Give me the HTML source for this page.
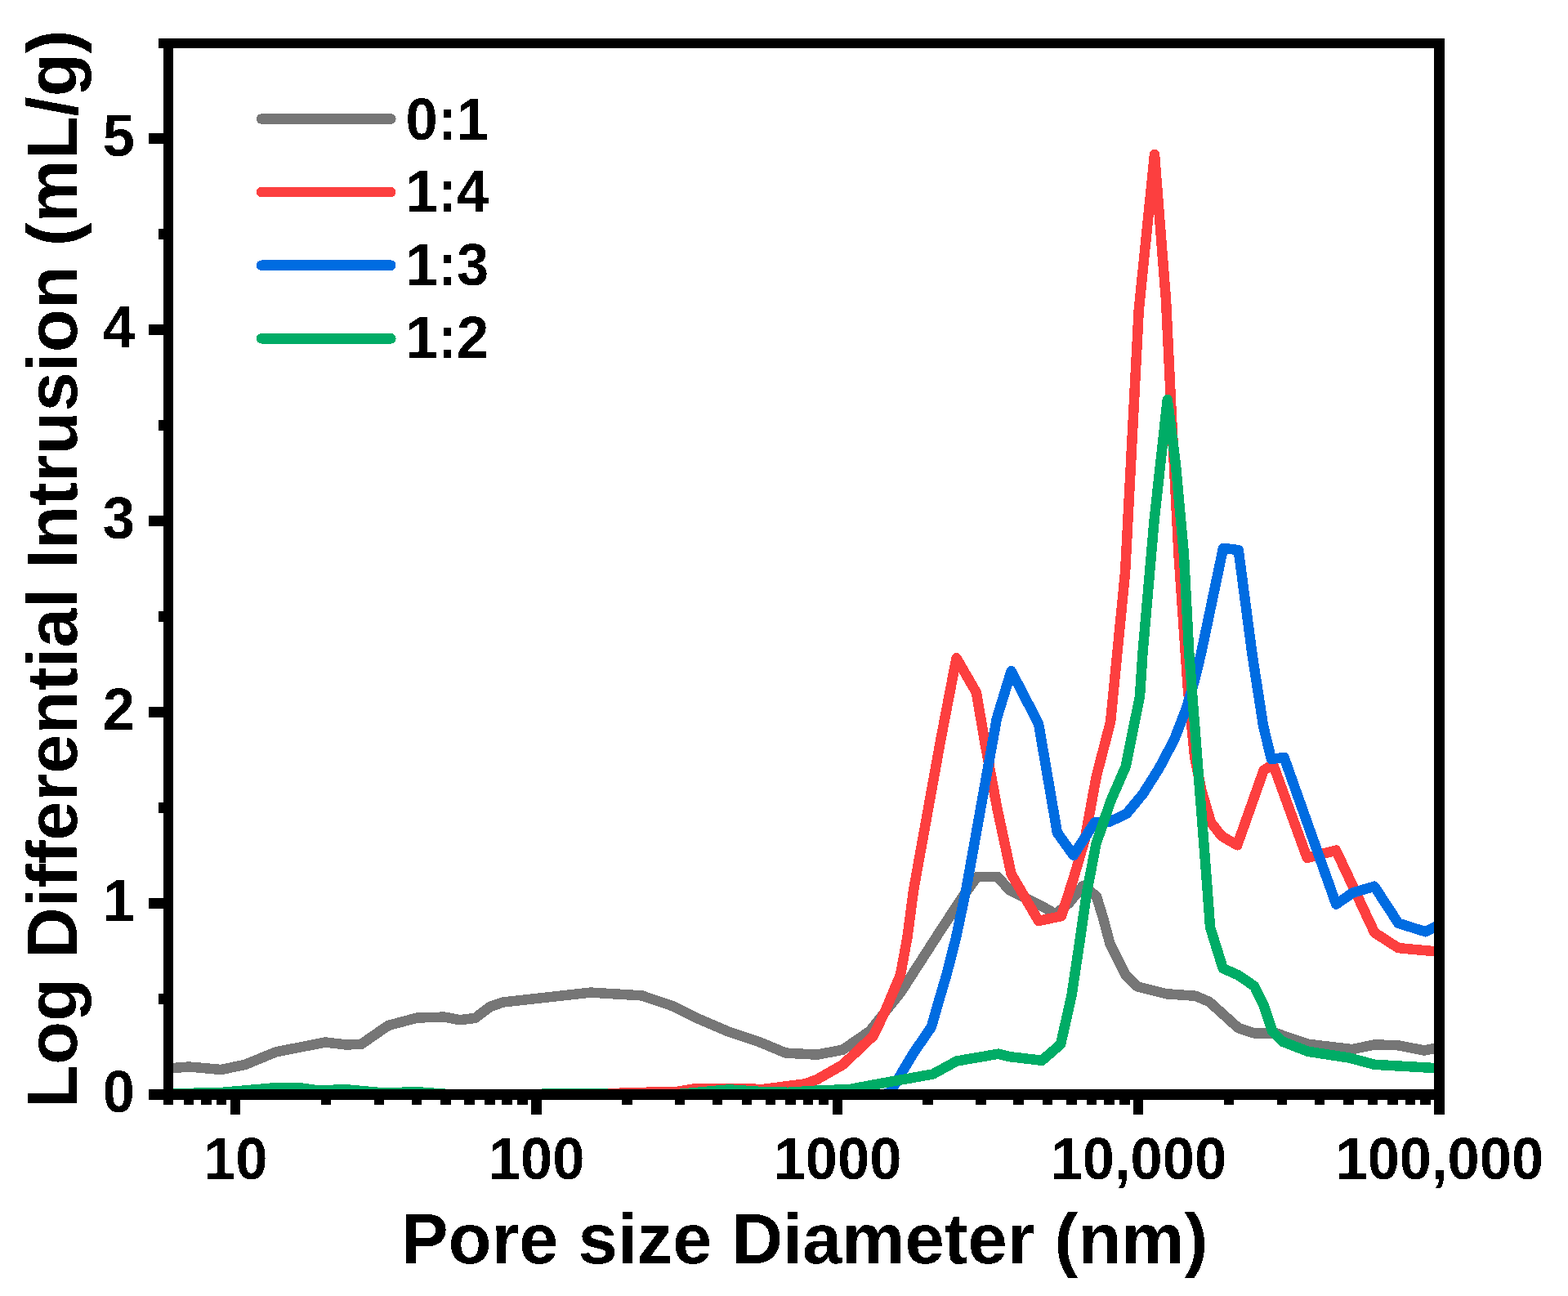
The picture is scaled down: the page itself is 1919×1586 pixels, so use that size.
<!DOCTYPE html>
<html lang="en"><head><meta charset="utf-8"><title>Pore size distribution</title>
<style>
html,body{margin:0;padding:0;background:#fff;}
body{width:1919px;height:1586px;overflow:hidden;}
svg{display:block;}
text{font-family:"Liberation Sans",sans-serif;font-weight:bold;fill:#000;}
.tick{font-size:73px;}
.title{font-size:86.7px;}
.leg{font-size:73px;}
</style></head><body>
<svg width="1919" height="1586" viewBox="0 0 1919 1586">
<defs>
<filter id="al" x="-5%" y="-5%" width="110%" height="110%" color-interpolation-filters="sRGB"><feComponentTransfer><feFuncA type="discrete" tableValues="0 1"/></feComponentTransfer></filter>
<clipPath id="pc"><rect x="206" y="53" width="1556" height="1287"/></clipPath>
</defs>
<rect x="0" y="0" width="1919" height="1586" fill="#ffffff"/>

<g clip-path="url(#pc)" fill="none" stroke-width="12.5" stroke-linejoin="round" stroke-linecap="round" shape-rendering="crispEdges">
<polyline stroke="#767676" points="206.0,1307.0 211.9,1307.0 231.3,1305.5 270.9,1309.0 300.1,1302.8 337.6,1287.4 398.0,1275.5 423.0,1278.4 441.8,1278.0 475.1,1255.0 510.6,1245.5 543.9,1244.6 562.7,1248.2 581.4,1245.9 600.0,1231.9 615.6,1226.5 723.0,1214.6 785.5,1218.4 823.0,1231.1 856.4,1247.5 891.8,1262.6 929.3,1275.1 961.6,1288.6 1000.0,1290.7 1031.3,1284.7 1064.6,1261.8 1103.0,1213.4 1145.9,1146.7 1177.2,1098.8 1195.9,1072.9 1220.9,1072.9 1235.5,1089.4 1260.6,1101.9 1279.3,1111.3 1291.8,1118.6 1308.5,1105.0 1325.2,1084.2 1341.8,1096.7 1350.2,1123.8 1358.5,1155.1 1377.3,1192.6 1391.9,1207.2 1394.6,1208.0 1427.9,1216.3 1463.4,1218.8 1480.1,1226.1 1515.5,1258.0 1534.2,1264.3 1561.3,1264.3 1600.9,1277.8 1655.1,1284.1 1682.2,1278.4 1711.4,1279.3 1742.7,1285.5 1755.2,1283.0 1762.0,1281.5"/>
<polyline stroke="#FC3F3F" points="206.0,1341.0 735.0,1340.5 741.7,1338.8 766.8,1337.2 827.2,1336.1 850.1,1332.4 912.7,1332.4 933.5,1333.0 985.6,1326.3 1000.0,1320.9 1031.3,1303.1 1068.8,1267.6 1082.9,1238.4 1102.1,1192.6 1110.5,1146.7 1118.2,1088.4 1150.7,908.4 1170.5,805.3 1194.9,847.5 1205.3,908.4 1220.9,991.8 1237.6,1069.6 1271.0,1126.9 1298.8,1121.2 1313.5,1076.0 1327.5,1028.0 1341.8,950.1 1359.1,883.4 1377.1,700.0 1393.8,378.9 1413.0,189.2 1427.1,368.4 1432.9,490.0 1442.6,680.0 1453.8,842.5 1462.1,925.9 1470.5,967.6 1481.9,1006.2 1495.0,1023.1 1506.9,1030.0 1514.2,1034.3 1546.6,942.6 1558.0,935.3 1599.7,1049.9 1635.1,1040.6 1682.2,1141.3 1711.4,1160.1 1755.2,1164.2 1762.0,1164.8"/>
<polyline stroke="#006CE1" points="206.0,1342.0 1076.0,1342.0 1090.0,1336.0 1103.8,1312.5 1118.8,1287.5 1139.8,1256.9 1147.5,1230.0 1158.5,1192.6 1170.2,1146.7 1182.4,1088.4 1219.9,879.3 1237.6,821.3 1271.0,885.5 1293.9,1018.9 1313.7,1046.7 1339.8,1006.4 1358.5,1005.4 1378.8,995.7 1398.6,971.8 1418.4,940.5 1437.1,905.1 1451.7,867.5 1462.1,832.1 1469.9,800.0 1497.0,670.8 1515.7,673.2 1532.4,800.0 1546.1,888.4 1555.9,929.0 1571.6,927.0 1635.2,1106.6 1655.6,1092.5 1682.0,1084.7 1711.4,1129.8 1744.8,1140.3 1755.2,1135.0 1762.0,1131.5"/>
<polyline stroke="#00AC66" points="206.0,1338.6 273.0,1336.8 335.5,1331.3 366.8,1331.3 391.8,1334.7 420.9,1333.0 471.0,1337.6 508.5,1336.1 554.4,1339.5 660.0,1339.5 665.0,1338.4 742.0,1338.4 746.0,1339.5 829.3,1339.0 891.8,1333.4 933.5,1336.1 964.8,1336.8 1000.0,1334.6 1040.0,1333.0 1083.4,1324.9 1141.7,1314.5 1170.9,1298.5 1222.0,1289.7 1235.5,1293.1 1275.1,1297.8 1298.1,1278.0 1311.6,1217.6 1321.0,1155.1 1330.0,1092.5 1341.5,1032.5 1359.4,980.0 1377.7,938.0 1395.0,852.2 1398.4,800.0 1412.6,636.8 1428.8,489.2 1438.8,567.5 1448.9,678.0 1455.3,800.0 1475.5,1060.0 1481.1,1135.0 1496.7,1185.1 1515.5,1193.4 1535.3,1207.0 1546.8,1230.9 1557.2,1262.2 1569.7,1274.7 1600.9,1286.8 1651.0,1294.5 1682.2,1302.8 1755.2,1307.0 1762.0,1307.4"/>
</g>
<g fill="#000" shape-rendering="crispEdges">
<rect x="200" y="47" width="1568" height="12"/>
<rect x="200" y="1333" width="1568" height="13"/>
<rect x="200" y="47" width="12" height="1305"/>
<rect x="1755" y="47" width="13" height="1317"/>
<rect x="182" y="1333" width="18" height="13"/>
<rect x="194" y="1216" width="6" height="13"/>
<rect x="182" y="1099" width="18" height="13"/>
<rect x="194" y="982" width="6" height="13"/>
<rect x="182" y="865" width="18" height="13"/>
<rect x="194" y="748" width="6" height="13"/>
<rect x="182" y="631" width="18" height="13"/>
<rect x="194" y="514" width="6" height="13"/>
<rect x="182" y="397" width="18" height="13"/>
<rect x="194" y="280" width="6" height="13"/>
<rect x="182" y="163" width="18" height="13"/>
<rect x="194" y="47" width="6" height="12"/>
<rect x="225" y="1346" width="12" height="6"/>
<rect x="246" y="1346" width="13" height="6"/>
<rect x="265" y="1346" width="12" height="6"/>
<rect x="282" y="1346" width="12" height="18"/>
<rect x="393" y="1346" width="12" height="6"/>
<rect x="458" y="1346" width="12" height="6"/>
<rect x="504" y="1346" width="12" height="6"/>
<rect x="539" y="1346" width="13" height="6"/>
<rect x="568" y="1346" width="13" height="6"/>
<rect x="593" y="1346" width="13" height="6"/>
<rect x="614" y="1346" width="13" height="6"/>
<rect x="633" y="1346" width="13" height="6"/>
<rect x="650" y="1346" width="13" height="18"/>
<rect x="761" y="1346" width="13" height="6"/>
<rect x="826" y="1346" width="12" height="6"/>
<rect x="872" y="1346" width="12" height="6"/>
<rect x="908" y="1346" width="12" height="6"/>
<rect x="937" y="1346" width="12" height="6"/>
<rect x="961" y="1346" width="13" height="6"/>
<rect x="983" y="1346" width="12" height="6"/>
<rect x="1002" y="1346" width="12" height="6"/>
<rect x="1019" y="1346" width="12" height="18"/>
<rect x="1129" y="1346" width="13" height="6"/>
<rect x="1194" y="1346" width="13" height="6"/>
<rect x="1240" y="1346" width="13" height="6"/>
<rect x="1276" y="1346" width="12" height="6"/>
<rect x="1305" y="1346" width="13" height="6"/>
<rect x="1330" y="1346" width="12" height="6"/>
<rect x="1351" y="1346" width="13" height="6"/>
<rect x="1370" y="1346" width="13" height="6"/>
<rect x="1387" y="1346" width="12" height="18"/>
<rect x="1498" y="1346" width="12" height="6"/>
<rect x="1563" y="1346" width="12" height="6"/>
<rect x="1609" y="1346" width="12" height="6"/>
<rect x="1644" y="1346" width="13" height="6"/>
<rect x="1674" y="1346" width="12" height="6"/>
<rect x="1698" y="1346" width="13" height="6"/>
<rect x="1720" y="1346" width="12" height="6"/>
<rect x="1738" y="1346" width="13" height="6"/>
</g>
<g filter="url(#al)">
<text class="tick" transform="translate(165,1360.9) scale(0.965,1)" text-anchor="end">0</text>
<text class="tick" transform="translate(165,1126.9) scale(0.965,1)" text-anchor="end">1</text>
<text class="tick" transform="translate(165,892.9) scale(0.965,1)" text-anchor="end">2</text>
<text class="tick" transform="translate(165,658.9) scale(0.965,1)" text-anchor="end">3</text>
<text class="tick" transform="translate(165,424.9) scale(0.965,1)" text-anchor="end">4</text>
<text class="tick" transform="translate(165,190.9) scale(0.965,1)" text-anchor="end">5</text>
<text class="tick" transform="translate(288.3,1443) scale(0.965,1)" text-anchor="middle">10</text>
<text class="tick" transform="translate(656.7,1443) scale(0.965,1)" text-anchor="middle">100</text>
<text class="tick" transform="translate(1025.0,1443) scale(0.965,1)" text-anchor="middle">1000</text>
<text class="tick" transform="translate(1393.4,1443) scale(0.965,1)" text-anchor="middle">10,000</text>
<text class="tick" transform="translate(1761.8,1443) scale(0.965,1)" text-anchor="middle">100,000</text>
<text class="title" x="984.5" y="1546" text-anchor="middle">Pore size Diameter (nm)</text>
<text class="title" transform="translate(93.8,696.3) rotate(-90)" text-anchor="middle">Log Differential Intrusion (mL/g)</text>
</g>
<g shape-rendering="crispEdges">
<line x1="320" y1="145.5" x2="478.3" y2="145.5" stroke="#767676" stroke-width="12.5" stroke-linecap="round"/>
<line x1="320" y1="235.1" x2="478.3" y2="235.1" stroke="#FC3F3F" stroke-width="12.5" stroke-linecap="round"/>
<line x1="320" y1="324.7" x2="478.3" y2="324.7" stroke="#006CE1" stroke-width="12.5" stroke-linecap="round"/>
<line x1="320" y1="414.3" x2="478.3" y2="414.3" stroke="#00AC66" stroke-width="12.5" stroke-linecap="round"/>
</g>
<g filter="url(#al)">
<text class="leg" transform="translate(496.5,170.5) scale(0.965,1)">0:1</text>
<text class="leg" transform="translate(496.5,258.9) scale(0.965,1)">1:4</text>
<text class="leg" transform="translate(496.5,348.7) scale(0.965,1)">1:3</text>
<text class="leg" transform="translate(496.5,438.1) scale(0.965,1)">1:2</text>
</g>
</svg></body></html>
